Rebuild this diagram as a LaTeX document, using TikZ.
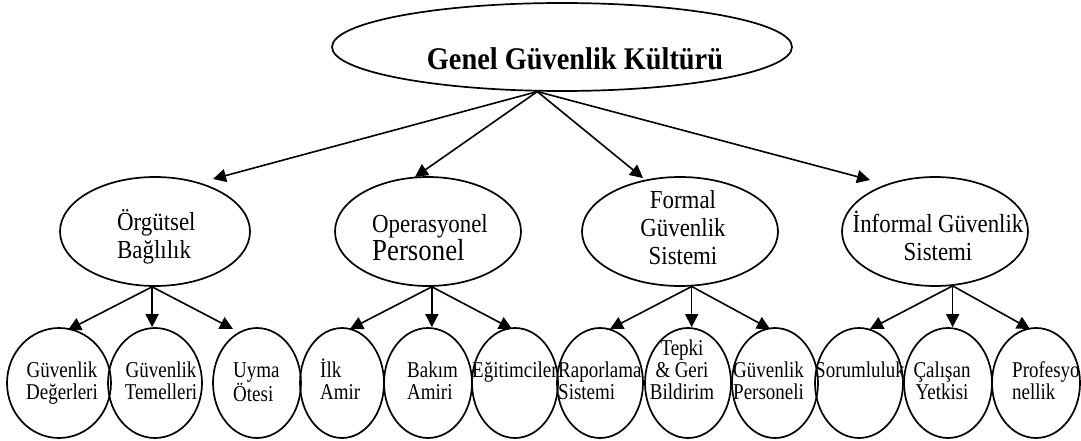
\documentclass[tikz,border=0pt]{standalone}
\usepackage{fontspec}
\setmainfont{Liberation Serif}
\newfontfamily\bfam[FakeStretch=0.84]{Liberation Serif}
\newfontfamily\mfam[FakeStretch=0.88]{Liberation Serif}
\newfontfamily\tfam[FakeStretch=0.9]{Liberation Serif}
\usetikzlibrary{arrows.meta,shapes.geometric}
\begin{document}
\begin{tikzpicture}[x=1pt,y=-1pt,
  ell/.style={draw, ellipse, line width=1.7pt, inner sep=0pt, minimum height=110pt},
  midell/.style={draw, ellipse, line width=1.7pt, inner sep=0pt, minimum height=109pt},
  arr/.style={-{Triangle[length=13pt,width=13pt]}, line width=1.6pt},
  btxt/.style={inner sep=0pt, font=\bfam\fontsize{22.6}{22}\selectfont, text width=110pt},
  mtxt/.style={inner sep=0pt, font=\mfam\fontsize{26}{28}\selectfont, text width=200pt},
  ttxt/.style={inner sep=0pt, font=\tfam\fontsize{31.5}{32}\selectfont\bfseries}]
\useasboundingbox (0,0) rectangle (1081,441);

% top
\node[draw, ellipse, line width=1.7pt, inner sep=0pt, minimum width=460pt, minimum height=88pt] (top) at (562,47) {};
\node[ttxt, anchor=base] (toptxt) at (575,70) {Genel Güvenlik Kültürü};

% middle level
\node[midell, minimum width=190pt] (org) at (155,231.5) {};
\node[midell, minimum width=186pt] (ope) at (428,231.5) {};
\node[midell, minimum width=196pt] (for) at (680,231.5) {};
\node[midell, minimum width=186pt] (inf) at (935,231.5) {};

\node[mtxt, align=left, anchor=base west] (orgtxt) at (117,230) {Örgütsel\\Bağlılık};
\node[mtxt, align=left, anchor=base west] (opetxt) at (372,232) {Operasyonel\\{\fontsize{30.5}{28}\selectfont Personel}};
\node[mtxt, align=center, anchor=base] (fortxt) at (683,208) {Formal\\Güvenlik\\Sistemi};
\node[mtxt, align=center, anchor=base] (inftxt) at (938,232) {İnformal\kern5.5pt Güvenlik\\Sistemi};

% bottom level
\node[ell, minimum width=104pt] (gd) at (59,383) {};
\node[ell, minimum width=94pt] (gt) at (155,383) {};
\node[ell, minimum width=88pt] (uo) at (257,383) {};
\node[ell, minimum width=84pt] (ia) at (342,383) {};
\node[ell, minimum width=88pt] (ba) at (428,383) {};
\node[ell, minimum width=86pt] (eg) at (515,383) {};
\node[ell, minimum width=86pt] (rs) at (600,383) {};
\node[ell, minimum width=86pt] (tg) at (688,383) {};
\node[ell, minimum width=86pt] (gp) at (775,383) {};
\node[ell, minimum width=88pt] (so) at (859,383) {};
\node[ell, minimum width=88pt] (cy) at (948,383) {};
\node[ell, minimum width=88pt] (pr) at (1036,383) {};

\node[btxt, align=center, anchor=base] (gdtxt) at (62,377) {Güvenlik\\Değerleri};
\node[btxt, align=center, anchor=base] (gttxt) at (161,377) {Güvenlik\\Temelleri};
\node[btxt, align=left, anchor=base west] (uotxt) at (233,377) {Uyma\\Ötesi};
\node[btxt, align=left, anchor=base west] (iatxt) at (320,377) {İlk\\Amir};
\node[btxt, align=left, anchor=base west] (batxt) at (407,377) {Bakım\\Amiri};
\node[btxt, align=left, anchor=base west] (egtxt) at (472,377) {Eğitimciler};
\node[btxt, align=left, anchor=base west] (rstxt) at (558,377) {Raporlama\\Sistemi};
\node[btxt, align=center, anchor=base] (tgtxt) at (682,355) {Tepki\\\&\kern4.5pt Geri\\Bildirim};
\node[btxt, align=left, anchor=base west] (gptxt) at (733,377) {Güvenlik\\Personeli};
\node[btxt, align=left, anchor=base west] (sotxt) at (815,377) {Sorumluluk};
\node[btxt, align=center, anchor=base] (cytxt) at (942,377) {Çalışan\\Yetkisi};
\node[btxt, align=left, anchor=base west] (prtxt) at (1012,377) {Profesyo\\nellik};

% arrow tip coordinates
\coordinate (t-org) at (213,179);
\coordinate (t-ope) at (415,177);
\coordinate (t-for) at (643,178);
\coordinate (t-inf) at (870,180);

\coordinate (t-gd) at (68,330);
\coordinate (t-uo) at (233,329);
\coordinate (t-ia) at (350,329);
\coordinate (t-eg) at (512,329);
\coordinate (t-rs) at (610,329);
\coordinate (t-gp) at (770,329);
\coordinate (t-so) at (870,329);
\coordinate (t-pr) at (1030,329);

% top arrows
\draw[arr] (top.241) -- (t-org);
\draw[arr] (top.241) -- (t-ope);
\draw[arr] (top.241) -- (t-for);
\draw[arr] (top.241) -- (t-inf);

% bottom arrows
\draw[arr] (org.267) -- (t-gd);
\draw[arr] (org.267) -- (org.267 |- gt.north);
\draw[arr] (org.267) -- (t-uo);

\draw[arr] (ope.274) -- (t-ia);
\draw[arr] (ope.274) -- (ope.274 |- ba.north);
\draw[arr] (ope.274) -- (t-eg);

\draw[arr] (for.282) -- (t-rs);
\draw[arr] (for.282) -- (for.282 |- tg.north);
\draw[arr] (for.282) -- (t-gp);

\draw[arr] (inf.288) -- (t-so);
\draw[arr] (inf.288) -- (inf.288 |- cy.north);
\draw[arr] (inf.288) -- (t-pr);
\end{tikzpicture}
\end{document}
